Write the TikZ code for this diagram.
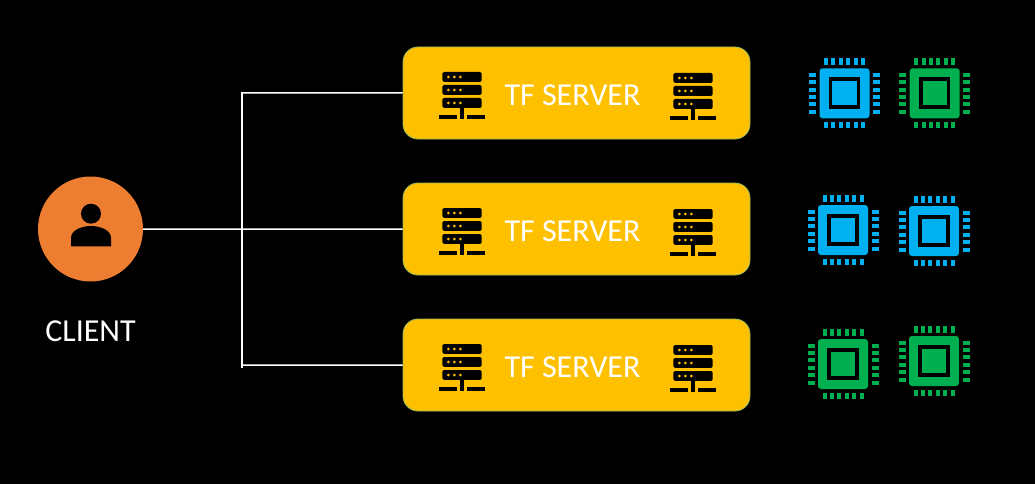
\documentclass[tikz,border=0pt]{standalone}
\usepackage{fontspec}
\setmainfont{Carlito}
\usetikzlibrary{positioning}

\definecolor{clientorange}{HTML}{ED7D31}
\definecolor{serveryellow}{HTML}{FFC000}
\definecolor{chipblue}{HTML}{00B0F0}
\definecolor{chipgreen}{HTML}{00B050}

\tikzset{
  serverbox/.style={draw=serveryellow!60!chipblue, line width=0.8pt, fill=serveryellow, rounded corners=15pt,
    minimum width=347pt, minimum height=92pt, inner sep=0pt},
  labeltext/.style={text=white, font=\fontsize{32}{32}\selectfont, inner sep=0pt},
  clientnode/.style={circle, fill=clientorange, minimum size=105pt, inner sep=0pt},
  wire/.style={draw=white, line width=1.5pt},
  pics/servericon/.style={code={
    \foreach \ry in {-5,8,21}{
      \fill[black, rounded corners=1.5pt] (-19.7,\ry-5) rectangle (19.7,\ry+4.8);
      \foreach \dx in {-13.7,-7.7,-1.7}
        \fill[serveryellow] (\dx,\ry) circle (1.5pt);
    }
    \fill[black] (-2,25.8) rectangle (1.7,33);
    \fill[black] (-22.7,33) rectangle (-4.7,37);
    \fill[black] (-2,33) rectangle (2,37);
    \fill[black] (4.7,33) rectangle (22.7,37);
  }},
  pics/chipicon/.style={code={
    \fill[#1, rounded corners=3pt] (-25,-25) rectangle (25,25);
    \fill[black] (-15.7,-16) rectangle (15.7,16);
    \fill[#1] (-12.2,-12) rectangle (12.2,12);
    \foreach \p in {-18.5,-11.1,-3.7,3.7,11.1,18.5}{
      \fill[#1] (\p-2,-35) rectangle (\p+2,-28.5);
      \fill[#1] (\p-2,28.5) rectangle (\p+2,35);
      \fill[#1] (-35.5,\p-2) rectangle (-28.5,\p+2);
      \fill[#1] (28.5,\p-2) rectangle (35.5,\p+2);
    }
  }}
}

\begin{document}
\begin{tikzpicture}[x=1pt,y=-1pt,node distance=43.2pt]
  \useasboundingbox[fill=black] (0,0) rectangle (1035,484);

  \node[clientnode] (client) at (90.5,229) {};
  \node[labeltext] (client_txt) at (90.5,331) {CLIENT};

  % person inside the circle
  \fill[black] (91,213.7) circle (10pt);
  \fill[black] (71,246.3) -- (71,238) .. controls (71,230) and (82,226) .. (91,226)
    .. controls (100,226) and (111,230) .. (111,238) -- (111,246.3) -- cycle;

  \node[serverbox] (srv_1) at (576.5,93) {};
  \node[serverbox] (srv_2) [below=of srv_1] {};
  \node[serverbox] (srv_3) [below=of srv_2] {};

  \foreach \s in {1,2,3}{
    \node[labeltext] (txt_\s) at ([xshift=-4pt,yshift=-2pt]srv_\s.center) {TF SERVER};
    \pic at ([xshift=-114.5pt,yshift=11pt]srv_\s.center) {servericon};
    \pic at ([xshift=116.5pt,yshift=10pt]srv_\s.center) {servericon};
  }

  \coordinate (bus_1) at (242,93);
  \coordinate (bus_3) at (242,365);
  \coordinate (bus_end) at (242,368);

  \path[wire]
    (client) -- (srv_2)
    (bus_1) -- (srv_1)
    (bus_3) -- (srv_3);
  \draw[wire] ([yshift=0.75pt]bus_1) -- (bus_end);

  \pic at (844.5,93.3) {chipicon=chipblue};
  \pic at (934.7,93.3) {chipicon=chipgreen};
  \pic at (843,230) {chipicon=chipblue};
  \pic at (934,231) {chipicon=chipblue};
  \pic at (843,364) {chipicon=chipgreen};
  \pic at (934,361) {chipicon=chipgreen};
\end{tikzpicture}
\end{document}
